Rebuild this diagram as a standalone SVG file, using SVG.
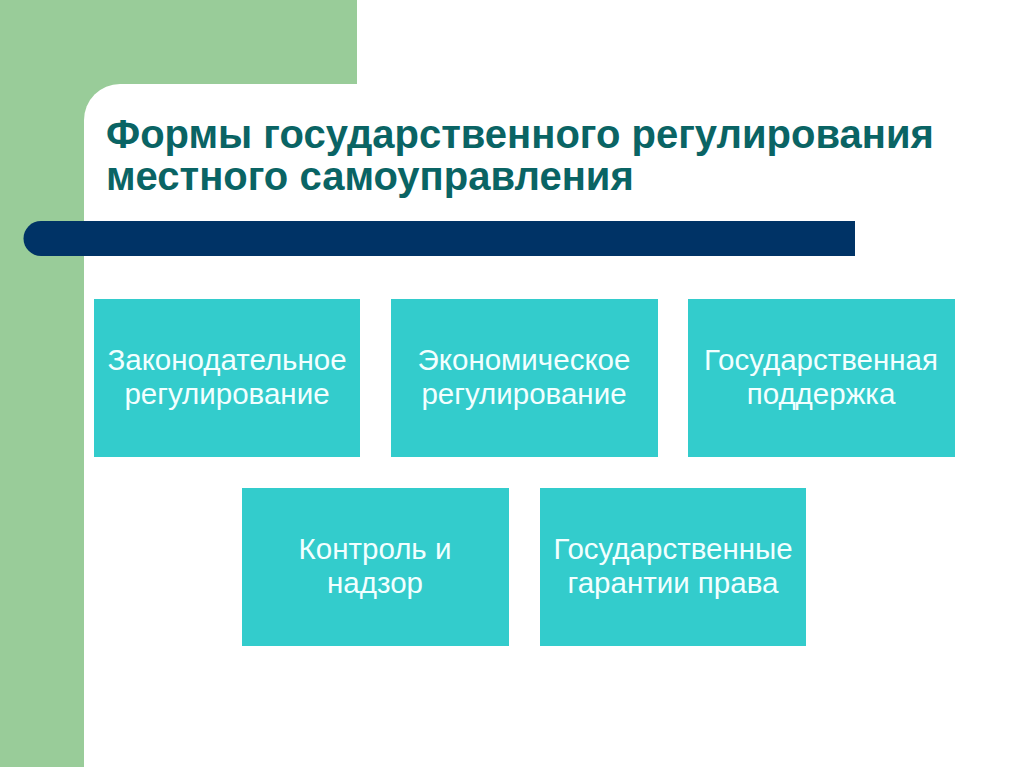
<svg xmlns="http://www.w3.org/2000/svg" width="1024" height="767" viewBox="0 0 1024 767">
<style>
.box{fill:#33CCCC}
.lbl{font-family:"Liberation Sans",Arial,sans-serif;font-size:29.5px;fill:#F2FFFF;text-anchor:middle}
.title{font-family:"Liberation Sans",Arial,sans-serif;font-size:40px;font-weight:bold;fill:#0A6464}
</style>
<rect x="0" y="0" width="1024" height="767" fill="#FFFFFF"/>
<rect x="0" y="0" width="357" height="120" fill="#99CC99"/>
<rect x="0" y="0" width="84" height="767" fill="#99CC99"/>
<path d="M84 767 V120 A36 36 0 0 1 120 84 H1024 V767 Z" fill="#FFFFFF"/>
<g id="title">
<text class="title" x="106" y="148">Формы государственного регулирования</text>
<text class="title" x="106" y="190">местного самоуправления</text>
</g>
<path d="M41 221 H855 V256 H41 A17.5 17.5 0 0 1 41 221 Z" fill="#003366"/>
<g id="n1"><rect class="box" x="94" y="299" width="266" height="158"/><text class="lbl" x="227" y="370">Законодательное</text><text class="lbl" x="227" y="404">регулирование</text></g>
<g id="n2"><rect class="box" x="391" y="299" width="267" height="158"/><text class="lbl" x="524" y="370">Экономическое</text><text class="lbl" x="524" y="404">регулирование</text></g>
<g id="n3"><rect class="box" x="688" y="299" width="267" height="158"/><text class="lbl" x="821" y="370">Государственная</text><text class="lbl" x="821" y="404">поддержка</text></g>
<g id="n4"><rect class="box" x="242" y="488" width="267" height="158"/><text class="lbl" x="375" y="559">Контроль и</text><text class="lbl" x="375" y="593">надзор</text></g>
<g id="n5"><rect class="box" x="540" y="488" width="266" height="158"/><text class="lbl" x="673" y="559">Государственные</text><text class="lbl" x="673" y="593">гарантии права</text></g>
<g id="connectors"></g>
</svg>
